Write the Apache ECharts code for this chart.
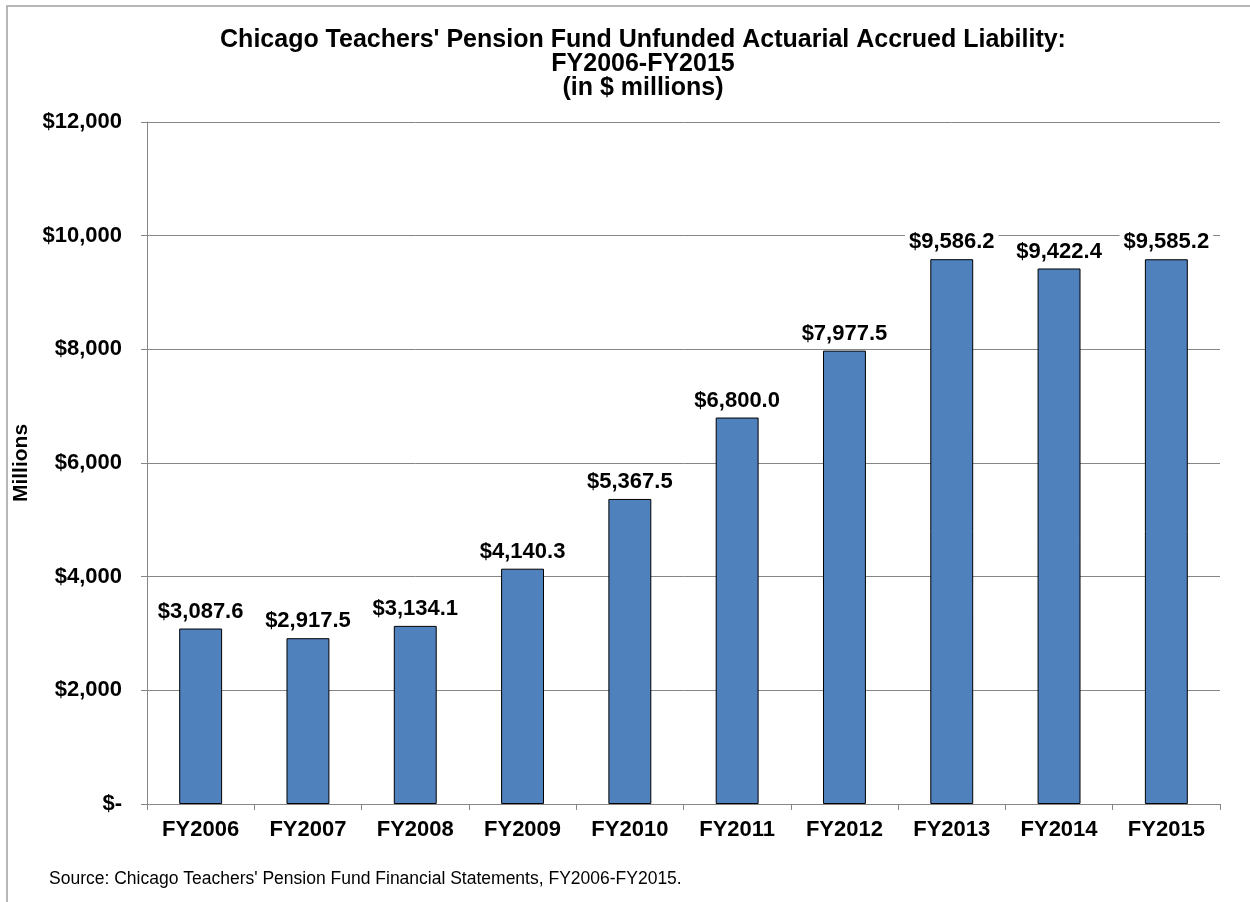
<!DOCTYPE html>
<html>
<head>
<meta charset="utf-8">
<title>Chicago Teachers' Pension Fund UAAL</title>
<script src="https://cdn.jsdelivr.net/npm/echarts@6/dist/echarts.min.js"></script>
<style>
  html, body { margin: 0; padding: 0; background: #fff; }
  #chart { width: 1250px; height: 902px; }
</style>
</head>
<body>
<div id="chart"></div>
<script>
  // fiscal years and unfunded liability ($ millions)
  const years = ['FY2006', 'FY2007', 'FY2008', 'FY2009', 'FY2010', 'FY2011', 'FY2012', 'FY2013', 'FY2014', 'FY2015'];
  const uaal = [3087.6, 2917.5, 3134.1, 4140.3, 5367.5, 6800.0, 7977.5, 9586.2, 9422.4, 9585.2];
  const yTicks = [0, 2000, 4000, 6000, 8000, 10000, 12000];

  const fontFam = 'Liberation Sans, Arial, sans-serif';

  function money(v, digits) {
    return '$' + v.toLocaleString('en-US', {minimumFractionDigits: digits, maximumFractionDigits: digits});
  }

  let chart = echarts.init(document.getElementById('chart'));
  chart.setOption({
    animation: false,
    title: {
      text: "Chicago Teachers' Pension Fund Unfunded Actuarial Accrued Liability:\nFY2006-FY2015\n(in $ millions)",
      left: 638,
      textAlign: 'center',
      top: 23,
      textStyle: {
        fontFamily: fontFam,
        fontSize: 25,
        fontWeight: 'bold',
        color: '#000',
        lineHeight: 24
      }
    },
    grid: {
      left: 147,
      right: 30,
      top: 122,
      bottom: 98
    },
    xAxis: {
      type: 'category',
      data: years,
      boundaryGap: true,
      axisLine: { lineStyle: { color: '#868686', width: 1 } },
      axisTick: { show: true, length: 6, alignWithLabel: false, lineStyle: { color: '#868686' } },
      axisLabel: {
        margin: 15,
        fontFamily: fontFam,
        fontSize: 22,
        fontWeight: 'bold',
        color: '#000'
      }
    },
    yAxis: {
      type: 'value',
      min: yTicks[0],
      max: yTicks[yTicks.length - 1],
      interval: 2000,
      name: 'Millions',
      nameLocation: 'middle',
      nameGap: 112,
      nameRotate: 90,
      nameTextStyle: {
        fontFamily: fontFam,
        fontSize: 21,
        fontWeight: 'bold',
        color: '#000'
      },
      axisLine: { show: true, lineStyle: { color: '#868686', width: 1 } },
      axisTick: { show: true, length: 6, inside: false, lineStyle: { color: '#868686' } },
      splitLine: { show: true, lineStyle: { color: '#868686', width: 1 } },
      axisLabel: {
        margin: 25,
        fontFamily: fontFam,
        fontSize: 22,
        fontWeight: 'bold',
        color: '#000',
        formatter: function (v) { return v === 0 ? '$-' : money(v, 0); }
      }
    },
    series: [
      {
        type: 'bar',
        data: uaal,
        barWidth: '40%',
        itemStyle: {
          color: '#4F81BD',
          borderColor: '#000',
          borderWidth: 1
        },
        label: {
          show: true,
          position: 'top',
          distance: 5,
          fontFamily: fontFam,
          fontSize: 22,
          fontWeight: 'bold',
          color: '#000',
          backgroundColor: '#fff',
          padding: [1, 4],
          formatter: function (p) { return money(p.value, 1); }
        }
      }
    ],
    graphic: [
      {
        type: 'rect',
        shape: { x: 7, y: 6, width: 1400, height: 1100 },
        style: { fill: 'none', stroke: '#a0a0a0', lineWidth: 1.5 },
        silent: true
      },
      {
        type: 'text',
        left: 49,
        top: 870,
        style: {
          text: "Source: Chicago Teachers' Pension Fund Financial Statements, FY2006-FY2015.",
          fontFamily: fontFam,
          fontSize: 17.5,
          fill: '#000'
        }
      }
    ]
  });
</script>
</body>
</html>
